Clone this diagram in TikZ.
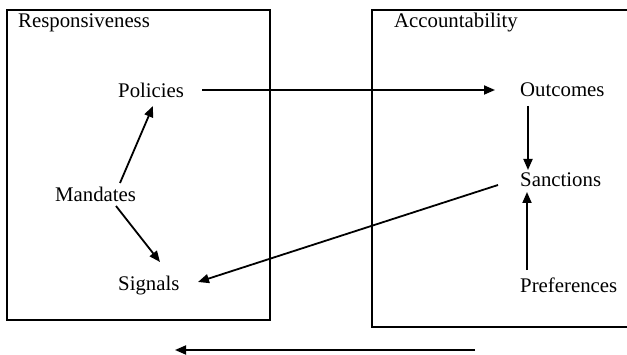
\documentclass[tikz,border=0pt]{standalone}
\usepackage{fontspec}
\setmainfont{Liberation Serif}
\usetikzlibrary{arrows.meta,calc}
\begin{document}
\begin{tikzpicture}[x=1pt,y=1pt,
  lbl/.style={anchor=base west,inner sep=0pt,font=\fontsize{20.8}{24}\selectfont},
  frame/.style={line width=2pt},
  arr/.style={line width=1.8pt,-{Triangle[length=11pt,width=9pt]}}]
\useasboundingbox (0,0) rectangle (627,354);
\fill[white] (0,0) rectangle (627,354);
\draw[frame] (7,344) rectangle (270,34);
\draw[frame] (640,344) -- (372,344) -- (372,27) -- (640,27);
\node[lbl] (resp) at (18,326) {Responsiveness};
\node[lbl] (acc) at (394,326) {Accountability};
\node[lbl] (pol) at (118,256) {Policies};
\node[lbl] (out) at (520,257) {Outcomes};
\node[lbl] (mand) at (55,152) {Mandates};
\node[lbl] (sig) at (118,64) {Signals};
\node[lbl] (sanc) at (520,167) {Sanctions};
\node[lbl] (pref) at (520,62) {Preferences};
\coordinate (bstart) at (475,4);
\coordinate (bend) at (175,4);
\draw[arr] ($(mand.base west)+(65,19)$) -- ($(pol.base west)+(35,-8)$);
\draw[arr] ($(mand.base west)+(61,-4)$) -- ($(sig.base west)+(42,28)$);
\draw[arr] ($(pol.base west)+(84,8)$) -- ($(out.base west)+(-25,7)$);
\draw[arr] ($(out.base west)+(8,-9)$) -- ($(sanc.base west)+(8,17)$);
\draw[arr] ($(pref.base west)+(7,22)$) -- ($(sanc.base west)+(7,-5)$);
\draw[arr] ($(sanc.base west)+(-22,2)$) -- ($(sig.base west)+(80,8)$);
\draw[arr] (bstart) -- (bend);
\end{tikzpicture}
\end{document}
